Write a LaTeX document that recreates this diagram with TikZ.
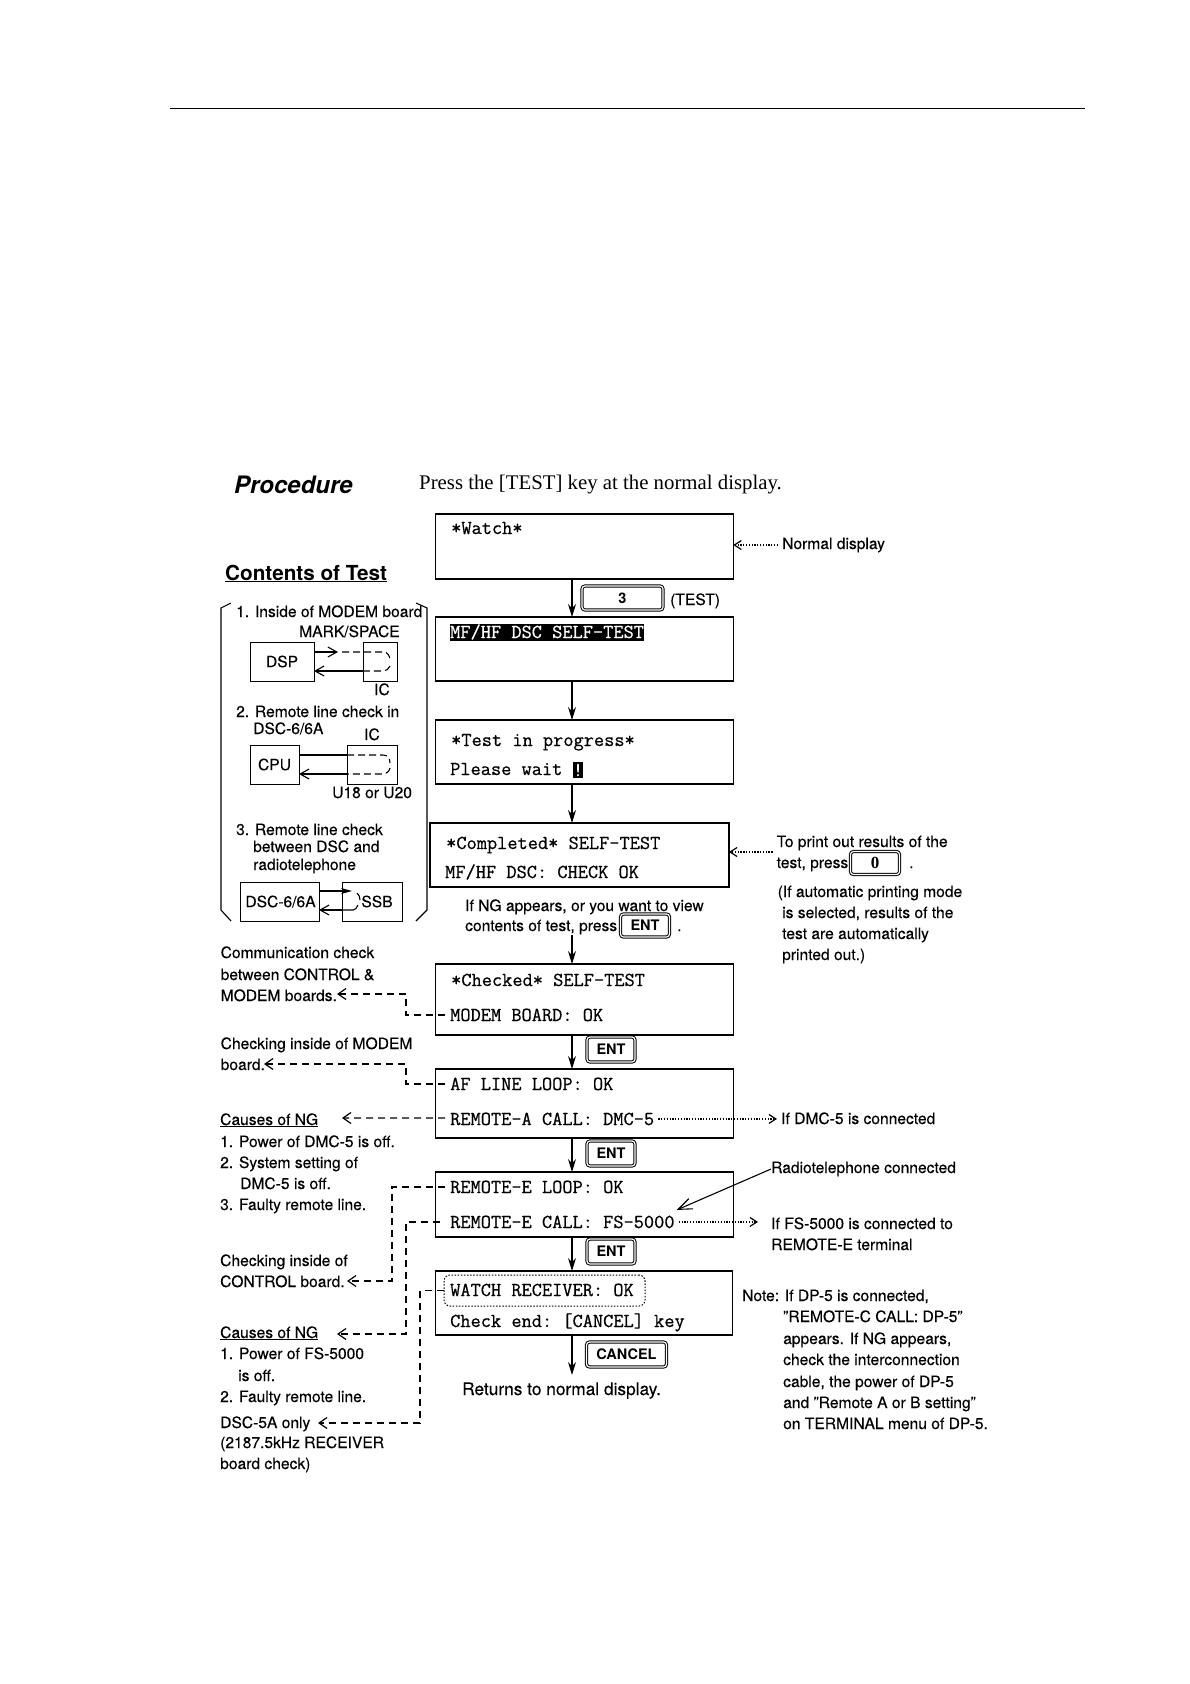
\documentclass[tikz,border=0pt]{standalone}
\usepackage{fontspec}
\setmainfont{Liberation Serif}
\setsansfont{TeX Gyre Heros}[UprightFeatures={FakeBold=0.25}]
\setmonofont{Latin Modern Mono}[UprightFeatures={FakeBold=0.6}]
\usepackage{tikz}
\usetikzlibrary{arrows, positioning, calc, arrows.meta, shapes}

\begin{document}
\begin{tikzpicture}
  [x=1pt,y=-1pt,
   screen/.style={draw,line width=1.3pt,inner sep=0pt,outer sep=0pt},
   lcd/.style={anchor=base west,inner sep=0pt,font=\fontsize{19.8}{22}\ttfamily},
   note/.style={anchor=base west,inner sep=0pt,font=\fontsize{15.6}{18}\sffamily},
   keycap/.style={draw,double,double distance=1.2pt,line width=1pt,rounded corners=3pt,inner sep=0pt,outer sep=1pt,
     font=\fontsize{14.5}{16}\sffamily\bfseries},
   part/.style={draw,line width=1pt,inner sep=0pt,outer sep=0pt,font=\fontsize{15.6}{18}\sffamily},
   flow/.style={line width=1.2pt,-{Stealth[length=13pt,width=8pt]}},
   ng/.style={line width=1.2pt,dash pattern=on 7pt off 5pt,-{Straight Barb[length=8pt,width=11pt]}},
   dot/.style={line width=1.2pt,dash pattern=on 1.3pt off 1.5pt,-{Straight Barb[length=7pt,width=9pt]}},
   wire/.style={line width=1.1pt,-{Straight Barb[length=9pt,width=10pt]}},
   hook/.style={line width=1.1pt,dash pattern=on 7pt off 4pt}]
  \useasboundingbox (0,0) rectangle (1190,1684);

  \draw[line width=.9pt] (170,108) -- (1085,108);
  \node[anchor=base west,inner sep=0pt,font=\fontsize{24}{26}\sffamily\bfseries\itshape] (title) at (234,493) {Procedure};
  \node[anchor=base west,inner sep=0pt,font=\fontsize{20.8}{24}\rmfamily] (press) at (419,489) {Press the [TEST] key at the normal display.};
  \node[anchor=base west,inner sep=0pt,font=\fontsize{20.7}{24}\sffamily\bfseries] (contents) at (225,580) {\underline{Contents of Test}};

  % display boxes
  \foreach \nm/\cx/\cy/\bw/\bh in {s1/584.5/546.5/297.5/65,s2/584.5/649/297.5/64,s3/584.5/752/297.5/64,
      s4/579.5/855/299/64,s5/584.5/999.5/297.5/71,s6/584.5/1103.5/297.5/69,s7/584.5/1204.5/297.5/65,s8/584/1303/297/64}
    \node[screen,minimum width=\bw,minimum height=\bh] (\nm) at (\cx,\cy) {};

  \foreach \nm/\px/\py/\txt in {watch/451/534/{*Watch*},prog/451/746/{*Test in progress*},wait/450/775/{Please wait},
      done/446/849/{*Completed* SELF-TEST},dsc/445/878/{MF/HF DSC: CHECK OK},chk/451/986/{*Checked* SELF-TEST},
      modem/450/1021/{MODEM BOARD: OK},af/450/1090/{AF LINE LOOP: OK},rema/450/1125/{REMOTE-A CALL: DMC-5},
      loop/450/1193/{REMOTE-E LOOP: OK},reme/450/1228/{REMOTE-E CALL: FS-5000},rcv/450/1296/{WATCH RECEIVER: OK},
      ends/450/1327/{Check end: [CANCEL] key}}
    \node[lcd] (\nm) at (\px,\py) {\txt};
  \node[lcd,fill=black,text=white,text height=14pt,text depth=3pt] (self) at (450,638) {MF/HF DSC SELF-TEST};
  \node[lcd,fill=black,text=white,anchor=center,text height=14pt,text depth=2pt,minimum width=10pt] (cursor) at (578,770) {!};
  \node[draw,line width=1pt,dash pattern=on 1.5pt off 1.6pt,rounded corners=6pt,inner sep=0pt,minimum width=201,minimum height=31] (rbox) at (544.5,1290.5) {};

  % keys
  \node[keycap,minimum width=81,minimum height=24] (k3) at (622.5,598) {3};
  \node[keycap,minimum width=48,minimum height=25] (ent1) at (611,1049.5) {ENT};
  \node[keycap,minimum width=48,minimum height=25] (ent2) at (611,1153.5) {ENT};
  \node[keycap,minimum width=48,minimum height=25] (ent3) at (611,1251.5) {ENT};
  \node[keycap,minimum width=80,minimum height=25] (cancel) at (626.5,1354.5) {CANCEL};
  \node[keycap,minimum width=49,minimum height=23] (ent4) at (645,925.5) {ENT};
  \node[keycap,minimum width=49,minimum height=23,font=\fontsize{17}{18}\rmfamily\bfseries] (k0) at (875,863) {0};

  % main flow
  \coordinate (mid) at (572,0);
  \coordinate (back) at (572,935);
  \coordinate (stop) at (572,1375);
  \foreach \src/\dst in {s1/s2,s2/s3,s3/s4,s5/s6,s6/s7,s7/s8}
    \draw[flow] (\src.south -| mid) -- (\dst.north -| mid);
  \draw[flow] (back) -- (s5.north -| mid);
  \draw[flow] (s8.south -| mid) -- (stop);

  % side texts
  \foreach \nm/\px/\py/\txt in {testl/670/605/{(TEST)},normal/782/549/{Normal display},
      ifa/465/911/{If NG appears, or you want to view},ifb/465/931/{contents of test, press},dota/677/931/{.},
      toa/776.5/847/{To print out results of the},tob/776.5/868/{test, press},dotb/909/868/{.},
      auto1/777.5/897/{(If automatic printing mode},auto2/782/918/{is selected, results of the},
      auto3/782/939/{test are automatically},auto4/782/960/{printed out.)},
      comm1/220.5/958/{Communication check},comm2/220.5/980/{between CONTROL \&},comm3/220.5/1001/{MODEM boards.},
      chk1/220.5/1049/{Checking inside of MODEM},chk2/220.5/1070/{board.},
      ca0/220/1125/{\underline{Causes of NG}},ca1/220/1147/{1. Power of DMC-5 is off.},ca2/220/1168/{2. System setting of},
      ca3/240/1189/{DMC-5 is off.},ca4/220/1210/{3. Faulty remote line.},
      cb1/220/1266/{Checking inside of},cb2/220/1287/{CONTROL board.},
      cc0/220/1338/{\underline{Causes of NG}},cc1/220/1359/{1. Power of FS-5000},cc2/238/1381/{is off.},cc3/220/1402/{2. Faulty remote line.},
      cd0/220/1428/{DSC-5A only},cd1/220/1448/{(2187.5kHz RECEIVER},cd2/220/1469/{board check)},
      ifd/781/1124/{If DMC-5 is connected},radio/771/1173/{Radiotelephone connected},
      iff/771/1229/{If FS-5000 is connected to},ift/771/1250/{REMOTE-E terminal},
      nt1/742/1301/{Note: If DP-5 is connected,},nt2/783/1322/{"REMOTE-C CALL: DP-5"},nt3/783/1344/{appears. If NG appears,},
      nt4/783/1365/{check the interconnection},nt5/783/1387/{cable, the power of DP-5},
      nt6/783/1408/{and "Remote A or B setting"},nt7/783/1429/{on TERMINAL menu of DP-5.}}
    \node[note] (\nm) at (\px,\py) {\txt};
  \node[note,font=\fontsize{17.3}{20}\sffamily] (back2) at (462,1395) {Returns to normal display.};

  % contents of test
  \draw[line width=1.1pt] (231,603) -- (221,608) -- (221,910) -- (231,921);
  \draw[line width=1.1pt] (416,603) -- (427,608) -- (427,910) -- (416,921);
  \foreach \nm/\px/\py/\txt in {t1/236/617/{1. Inside of MODEM board},mark/299/637/{MARK/SPACE},lic/374/695/{IC},
      t2/236/717/{2. Remote line check in},t2b/253/734/{DSC-6/6A},lic2/364/740/{IC},lu/332/798/{U18 or U20},
      t3/236/835/{3. Remote line check},t3b/253/852/{between DSC and},t3c/253/870/{radiotelephone}}
    \node[note] (\nm) at (\px,\py) {\txt};
  \node[part,minimum width=64,minimum height=39] (dsp) at (282,661.5) {DSP};
  \node[part,minimum width=34,minimum height=39] (ic1) at (380,661.5) {};
  \node[part,minimum width=49,minimum height=39] (cpu) at (274.5,764.5) {CPU};
  \node[part,minimum width=50,minimum height=39] (ic2) at (372,764.5) {};
  \node[part,minimum width=79,minimum height=39] (dscu) at (279.5,901.5) {\hspace{2pt}DSC-6/6A};
  \node[part,minimum width=60,minimum height=39] (ssb) at (372,901.5) {\hspace{10pt}SSB};

  \draw[wire] ([yshift=9.5pt]dsp.east) -- ++(24,0);
  \draw[hook] ([yshift=9.5pt]dsp.east) ++(28,0) -- (383,652) .. controls (388,652) and (390,656) .. (390,661);
  \draw[hook] (390,666) .. controls (389,669) and (387,671) .. (380,671) -- (363,671);
  \draw[wire] (ic1.west |- 0,671) -- (dsp.east |- 0,671);

  \draw[line width=1.1pt] (cpu.east |- 0,755) -- (ic2.west |- 0,755);
  \draw[hook] (ic2.west |- 0,755) -- (383,755) .. controls (388,755) and (390,759) .. (390,763);
  \draw[hook] (390,768) .. controls (389,772) and (387,774) .. (380,774) -- (347,774);
  \draw[wire] (ic2.west |- 0,774) -- (cpu.east |- 0,774);

  \draw[line width=1.1pt,-{Stealth[length=11pt,width=6pt]}] (dscu.east |- 0,891) -- (352,891);
  \draw[line width=1.1pt] (357,893) .. controls (359,895) and (360,897) .. (360,900);
  \draw[line width=1.1pt] (358,905) .. controls (357,908) and (355,910) .. (353,910) -- (342,910);
  \draw[wire] (ssb.west |- 0,910) -- (dscu.east |- 0,910);

  % ng links
  \coordinate (busa) at (406,0);
  \coordinate (busb) at (392,0);
  \coordinate (busc) at (420,0);
  \coordinate (tipa) at (337,994);
  \coordinate (tipb) at (264,1064);
  \coordinate (tipc) at (342,1118);
  \coordinate (tipd) at (347,1281);
  \coordinate (tipe) at (337,1334);
  \coordinate (tipf) at (318,1423);
  \draw[ng] (modem.west) ++(-5,0) -| (busa |- tipa) -- (tipa);
  \draw[ng] (af.west) ++(-5,0) -| (busa |- tipb) -- (tipb);
  \draw[ng] (rema.west) ++(-5,-1) -- (tipc);
  \draw[ng] (loop.west) ++(-5,0) -| (busb |- tipd) -- (tipd);
  \draw[ng] (reme.west) ++(-10,0) -| (busa |- tipe) -- (tipe);
  \draw[ng] (rbox.west) -| (busc |- tipf) -- (tipf);

  % right side pointers
  \draw[dot] (normal.west) ++(-4,0) -- (s1.east |- normal.west);
  \draw[dot] (toa.west |- 0,852) ++(-4,0) -- (s4.east |- 0,852);
  \draw[dot] (rema.east) ++(4,0) -- ($(rema.east -| ifd.west)+(-4,0)$);
  \draw[dot] (reme.east) ++(4,0) -- ($(reme.east -| iff.west)+(-13,0)$);
  \draw[line width=1.1pt,-{Straight Barb[length=14pt,width=11pt]}] (radio.west) -- ($(reme.east)+(2,-12)$);
\end{tikzpicture}
\end{document}
